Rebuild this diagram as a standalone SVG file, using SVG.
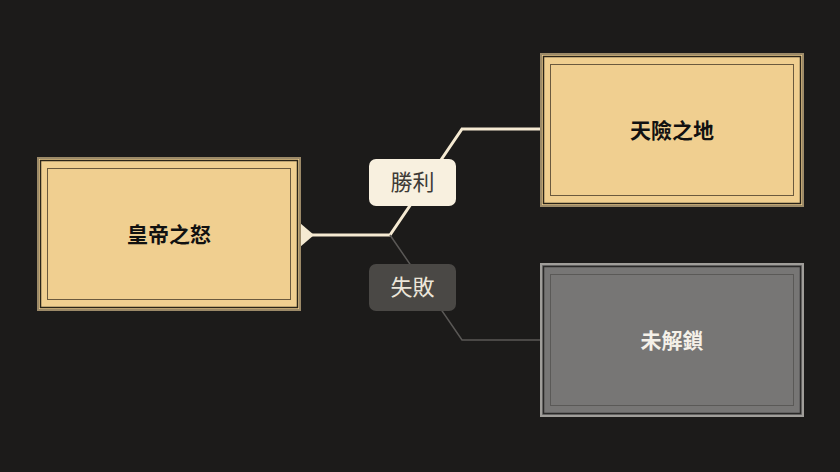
<svg xmlns="http://www.w3.org/2000/svg" width="840" height="472" viewBox="0 0 840 472">
<style>
.o{stroke-width:2}
.gold{fill:#f0cf90}
.t{font-family:"Noto Sans CJK TC","Noto Sans CJK SC",sans-serif;font-weight:bold;font-size:21px;text-anchor:middle}
.l{font-family:"Noto Sans CJK TC","Noto Sans CJK SC",sans-serif;font-size:22px;text-anchor:middle}
</style>
<rect width="840" height="472" fill="#1c1b1a"/>
<g id="connectors" fill="none">
<polygon points="300,223 314,235 300,247" fill="#f5ead2"/>
<polyline points="300,235 390,235 462,129 541,129" stroke="#f5ead2" stroke-width="3"/>
<polyline points="390,235 462,340 541,340" stroke="#5a5856" stroke-width="1.5"/>
<g id="label-win"><rect x="369" y="159" width="87" height="47" rx="7" fill="#f8f0df"/><text class="l" x="412.5" y="190" fill="#3e3a36">勝利</text></g>
<g id="label-lose"><rect x="369" y="264" width="87" height="47" rx="7" fill="#4a4845"/><text class="l" x="412.5" y="295" fill="#ece6da">失敗</text></g>
</g>
<g id="node-emperor">
<rect x="38" y="158" width="262" height="152" class="gold" stroke="#9c8a68" stroke-width="2"/>
<rect x="40.5" y="160.5" width="257" height="147" fill="none" stroke="#2a2418" stroke-width="1.5"/>
<rect x="47.5" y="168.5" width="243" height="131" fill="none" stroke="#6b5a3e" stroke-width="1"/>
<text class="t" x="169" y="242" fill="#111">皇帝之怒</text>
</g>
<g id="node-pass">
<rect x="541" y="54" width="262" height="152" class="gold" stroke="#9c8a68" stroke-width="2"/>
<rect x="543.5" y="56.5" width="257" height="147" fill="none" stroke="#2a2418" stroke-width="1.5"/>
<rect x="550.5" y="64.5" width="243" height="131" fill="none" stroke="#6b5a3e" stroke-width="1"/>
<text class="t" x="672" y="138" fill="#111">天險之地</text>
</g>
<g id="node-locked">
<rect x="541" y="264" width="262" height="152" fill="#777675" stroke="#a09e9a" stroke-width="2"/>
<rect x="543.5" y="266.5" width="257" height="147" fill="none" stroke="#2a2928" stroke-width="1.5"/>
<rect x="550.5" y="274.5" width="243" height="131" fill="none" stroke="#5a5957" stroke-width="1"/>
<text class="t" x="672" y="348" fill="#f4f0e8">未解鎖</text>
</g>
</svg>
